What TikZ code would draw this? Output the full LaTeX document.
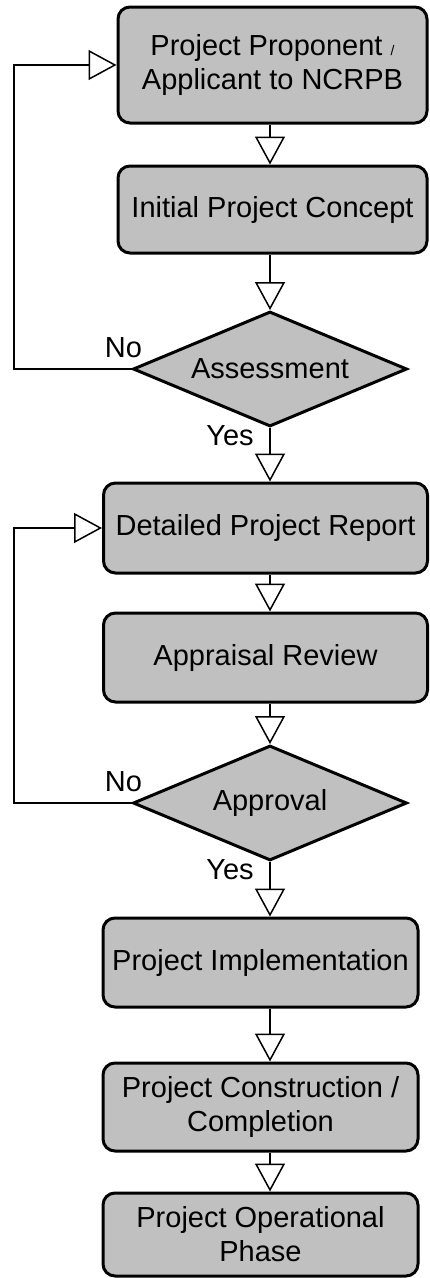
\documentclass[tikz,border=0pt]{standalone}
\usepackage{fontspec}
\setmainfont{Liberation Sans}
\usetikzlibrary{shapes.geometric,arrows.meta}
\definecolor{boxgray}{HTML}{C0C0C0}
\begin{document}
\begin{tikzpicture}[x=1pt,y=-1pt,
  main node/.style={draw,line width=3pt,fill=boxgray,rounded corners=12pt,align=center,
    inner sep=0pt,font=\fontsize{29}{34}\selectfont},
  decision node/.style={diamond,aspect=2.4,draw,line width=3pt,fill=boxgray,inner sep=0pt,
    minimum width=274pt,minimum height=115pt,font=\fontsize{29}{34}\selectfont},
  lbl/.style={inner sep=0pt,font=\fontsize{29}{34}\selectfont},
  flow/.style={line width=1.5pt,-{Triangle[length=28pt,width=30pt,fill=white]}}]

  \useasboundingbox (0,0) rectangle (429,1278);

  \node[main node,minimum width=309pt,minimum height=116pt] (prop) at (272.5,65)
    {Project Proponent {\fontsize{14}{16}\selectfont/}\\Applicant to NCRPB};
  \node[main node,minimum width=309pt,minimum height=87pt] (concept) at (272.5,209.5)
    {Initial Project Concept};
  \node[decision node] (assess) at (270,369) {Assessment};
  \node[main node,minimum width=324pt,minimum height=90pt] (dpr) at (265.5,528)
    {Detailed Project Report};
  \node[main node,minimum width=324pt,minimum height=89pt] (review) at (265.5,657.5)
    {Appraisal Review};
  \node[decision node] (approval) at (270,803) {Approval};
  \node[main node,minimum width=315pt,minimum height=89pt] (impl) at (260.5,962.5)
    {Project Implementation};
  \node[main node,minimum width=315pt,minimum height=88pt] (constr) at (260.5,1107)
    {Project Construction /\\Completion};
  \node[main node,minimum width=315pt,minimum height=83pt] (oper) at (260.5,1234.5)
    {Project Operational\\Phase};

  \node[lbl] (no1) at ([xshift=-8pt,yshift=21pt]assess.west) {No};
  \node[lbl] (yes1) at ([xshift=-40pt,yshift=-8pt]assess.south) {Yes};
  \node[lbl] (no2) at ([xshift=-8pt,yshift=21pt]approval.west) {No};
  \node[lbl] (yes2) at ([xshift=-40pt,yshift=-8pt]approval.south) {Yes};

  \coordinate (back) at (14,0);

  \draw[flow] (prop.south -| assess) -- (concept.north -| assess);
  \draw[flow] (concept.south -| assess) -- (assess.north);
  \draw[flow] (assess.south) -- (dpr.north -| assess);
  \draw[flow] (dpr.south -| assess) -- (review.north -| assess);
  \draw[flow] (review.south -| assess) -- (approval.north);
  \draw[flow] (approval.south) -- (impl.north -| assess);
  \draw[flow] (impl.south -| assess) -- (constr.north -| assess);
  \draw[flow] (constr.south -| assess) -- (oper.north -| assess);
  \draw[flow] (assess.west) -- (assess.west -| back) |- (prop.west);
  \draw[flow] (approval.west) -- (approval.west -| back) |- (dpr.west);
\end{tikzpicture}
\end{document}
